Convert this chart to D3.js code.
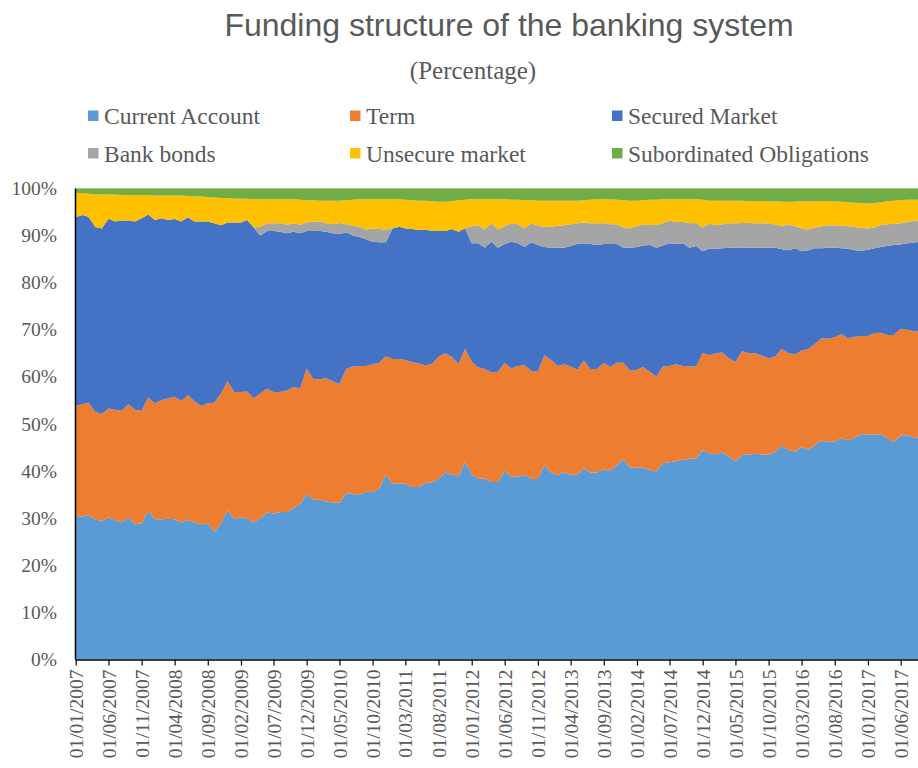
<!DOCTYPE html>
<html>
<head>
<meta charset="utf-8">
<title>Funding structure of the banking system</title>
<script src="https://cdn.jsdelivr.net/npm/d3@7"></script>
<style>
  html, body { margin: 0; padding: 0; background: #ffffff; }
  svg { display: block; }
</style>
</head>
<body>
<svg id="chart" width="918" height="768"></svg>
<script>
// Series shown in the stack, bottom to top
const seriesNames = ["Current Account", "Term", "Secured Market", "Bank bonds", "Unsecure market", "Subordinated Obligations"];
const seriesColors = ["#5B9BD5", "#ED7D31", "#4472C4", "#A5A5A5", "#FFC000", "#70AD47"];

// Monthly shares of total funding (%), January 2007 to September 2017
const currentAccount = [
  30.5,30.3,30.7,29.8,29.4,30.2,29.6,29.1,30.2,28.7,
  28.9,31.5,29.8,29.8,29.9,29.8,29.1,29.6,29.1,28.7,
  28.8,27.1,28.9,31.7,29.8,30.2,30.0,29.1,30.0,31.2,
  31.0,31.3,31.3,32.1,33.0,35.1,33.9,33.9,33.6,33.3,
  33.3,35.3,35.2,34.9,35.6,35.5,36.3,39.2,37.3,37.3,
  37.3,36.6,36.6,37.5,37.6,38.3,39.7,39.3,38.9,42.0,
  39.3,38.3,38.5,37.7,37.7,40.0,38.8,38.8,39.2,38.3,
  38.3,41.2,39.7,39.1,39.8,39.2,39.2,40.6,39.7,39.7,
  40.4,40.0,41.3,42.5,40.7,40.7,40.7,40.2,39.9,41.7,
  41.9,42.1,42.4,42.6,42.7,44.5,43.8,43.6,44.0,43.1,
  42.1,43.4,43.5,43.7,43.5,43.5,44.1,45.4,44.5,44.1,
  45.1,44.6,45.5,46.5,46.2,46.3,47.0,46.5,47.1,47.9,
  47.7,47.7,47.9,47.0,46.1,47.6,47.6,47.2,47.1
];
const term = [
  23.3,23.9,23.8,22.8,22.7,23.1,23.4,23.7,24.0,24.3,
  23.9,24.1,24.6,25.3,25.5,26.0,25.8,26.5,25.8,25.1,
  25.6,27.4,27.6,27.4,27.0,26.6,26.9,26.4,26.5,26.3,
  25.8,25.5,25.8,25.7,24.6,26.7,25.6,25.6,26.1,25.8,
  25.2,26.4,27.0,27.4,26.7,27.2,26.7,25.2,26.5,26.5,
  26.3,26.5,26.3,25.0,25.1,26.0,25.3,25.0,23.8,24.0,
  23.9,23.7,23.2,23.3,23.4,23.0,23.0,23.5,23.3,23.0,
  22.8,23.4,23.9,23.2,22.9,23.0,22.3,22.9,22.0,22.0,
  22.6,22.1,21.7,20.5,20.6,20.8,21.4,20.9,20.2,20.5,
  20.4,20.6,19.9,19.6,19.5,20.6,20.8,21.4,21.2,20.8,
  21.1,22.1,21.5,21.3,21.0,20.4,20.3,20.5,20.5,20.7,
  20.5,21.3,21.5,21.7,21.9,22.1,22.1,21.7,21.4,20.8,
  21.0,21.6,21.5,21.9,22.8,22.6,22.4,22.5,22.6
];
const securedMarket = [
  40.1,40.2,39.5,39.2,39.4,40.3,40.0,40.4,39.0,40.0,
  40.9,38.9,38.9,38.6,37.9,37.7,38.1,37.8,38.1,39.2,
  38.6,38.1,35.7,33.7,36.0,36.0,36.4,36.2,33.5,33.5,
  34.2,34.0,33.4,33.0,32.9,29.2,31.5,31.5,31.1,31.4,
  31.8,29.0,27.8,27.4,26.9,26.0,25.6,24.2,27.7,28.1,
  27.9,28.3,28.3,28.8,28.3,26.7,26.0,27.1,28.1,25.5,
  25.2,26.4,25.7,27.7,26.3,25.2,26.9,26.1,25.1,27.3,
  26.9,23.0,23.8,25.1,24.7,25.6,26.7,24.9,26.5,26.3,
  25.2,26.1,25.2,24.4,26.1,26.1,25.8,26.9,27.3,25.7,
  26.1,25.5,26.1,25.2,25.6,21.6,22.6,22.2,22.1,23.5,
  24.3,22.0,22.4,22.4,22.9,23.5,23.0,21.2,21.9,22.5,
  21.1,21.0,20.3,19.1,19.3,19.0,18.2,19.0,18.4,18.1,
  18.3,18.0,18.2,18.9,19.1,17.9,18.4,18.8,19.0
];
const bankBonds = [
  0,0,0,0,0,0,0,0,0,0,
  0,0,0,0,0,0,0,0,0,0,
  0,0,0,0,0,0,0,0,1.9,1.6,
  1.6,1.8,1.8,1.8,1.8,1.8,2.0,2.0,1.8,1.9,
  2.4,1.7,2.1,2.2,2.1,2.8,2.8,2.7,0,0,
  0,0,0,0,0,0,0,0,0,0,
  3.6,3.8,3.9,3.9,3.9,3.8,3.9,4.0,3.9,4.0,
  4.1,4.3,4.5,4.7,4.8,4.6,4.4,4.4,4.4,4.6,
  4.4,4.2,4.2,4.3,4.1,4.5,4.4,4.3,4.8,4.8,
  4.8,4.7,4.5,5.2,4.9,5.0,5.3,5.0,5.1,5.2,
  5.1,5.2,5.3,5.2,5.2,5.1,5.0,4.9,5.5,4.7,
  4.8,4.4,4.4,4.7,4.8,4.8,4.8,4.8,4.9,4.8,
  4.5,4.4,4.6,4.6,4.5,4.5,4.5,4.6,4.6
];
const unsecureMarket = [
  5.2,4.6,4.9,7.0,7.2,5.1,5.7,5.4,5.4,5.6,
  4.9,4.1,5.2,4.8,5.2,5.0,5.5,4.5,5.3,5.3,
  5.2,5.5,5.8,5.2,5.1,5.0,4.5,6.0,5.8,5.1,
  5.1,5.1,5.4,5.1,5.3,4.7,4.5,4.4,4.8,5.0,
  4.7,5.1,5.5,5.8,6.4,6.2,6.3,6.4,6.2,5.8,
  6.1,6.1,6.2,6.1,6.3,6.2,6.2,5.9,6.7,6.1,
  5.7,5.5,6.4,5.1,6.4,5.7,5.0,5.2,6.0,4.9,
  5.3,5.5,5.5,5.3,5.2,5.0,4.8,4.7,5.0,5.1,
  5.1,5.3,5.2,5.8,5.9,5.3,5.2,5.3,5.4,5.0,
  4.5,4.8,4.8,5.1,5.0,5.9,4.9,5.2,5.0,4.8,
  4.8,4.7,4.6,4.7,4.7,4.8,4.9,5.2,4.8,5.2,
  5.8,6.0,5.6,5.3,5.1,5.1,5.1,5.1,5.2,5.3,
  5.3,5.2,4.9,4.9,4.9,4.9,4.7,4.5,4.3
];
const subordinatedObligations = [
  0.9,1.0,1.1,1.2,1.3,1.3,1.3,1.4,1.4,1.4,
  1.4,1.4,1.5,1.5,1.5,1.5,1.5,1.6,1.7,1.7,
  1.8,1.9,2.0,2.0,2.1,2.2,2.2,2.3,2.3,2.3,
  2.3,2.3,2.3,2.3,2.4,2.5,2.5,2.6,2.6,2.6,
  2.6,2.5,2.4,2.3,2.3,2.3,2.3,2.3,2.3,2.3,
  2.4,2.5,2.6,2.6,2.7,2.8,2.8,2.7,2.5,2.4,
  2.3,2.3,2.3,2.3,2.3,2.3,2.4,2.4,2.5,2.5,
  2.6,2.6,2.6,2.6,2.6,2.6,2.6,2.5,2.4,2.3,
  2.3,2.3,2.4,2.5,2.6,2.6,2.5,2.4,2.4,2.3,
  2.3,2.3,2.3,2.3,2.3,2.4,2.6,2.6,2.6,2.6,
  2.6,2.6,2.7,2.7,2.7,2.7,2.7,2.8,2.8,2.8,
  2.7,2.7,2.7,2.7,2.7,2.7,2.8,2.9,3.0,3.1,
  3.2,3.1,2.9,2.7,2.6,2.5,2.4,2.4,2.4
];

// Axis labels
const yTickValues = [0, 10, 20, 30, 40, 50, 60, 70, 80, 90, 100];
const xTickLabels = [
  "01/01/2007","01/06/2007","01/11/2007","01/04/2008","01/09/2008","01/02/2009",
  "01/07/2009","01/12/2009","01/05/2010","01/10/2010","01/03/2011","01/08/2011",
  "01/01/2012","01/06/2012","01/11/2012","01/04/2013","01/09/2013","01/02/2014",
  "01/07/2014","01/12/2014","01/05/2015","01/10/2015","01/03/2016","01/08/2016",
  "01/01/2017","01/06/2017"
];

const seriesValues = [currentAccount, term, securedMarket, bankBonds, unsecureMarket, subordinatedObligations];
const months = d3.timeMonth.range(new Date(2007, 0, 1), new Date(2017, 9, 1));
const rows = months.map((date, i) => {
  const row = { date };
  seriesNames.forEach((name, k) => { row[name] = seriesValues[k][i]; });
  return row;
});

const svg = d3.select("#chart");
const W = 918;
const plot = { left: 75.5, top: 188.5, bottom: 659.5, right: W };

const parseDay = d3.timeParse("%d/%m/%Y");
const tickDates = xTickLabels.map(parseDay);

// Date axis: first and last labelled months pinned, later months extrapolate to the edge
const x = d3.scaleTime()
  .domain([tickDates[0], tickDates[tickDates.length - 1]])
  .range([75.7, 900.7]);
const y = d3.scaleLinear().domain([0, 100]).range([plot.bottom, plot.top]);

const textColor = "#595959";
const serif = "'Liberation Serif', 'Times New Roman', Times, serif";
const sans = "'Liberation Sans', Arial, Helvetica, sans-serif";

// Title and subtitle
svg.append("text")
  .attr("x", 509).attr("y", 35.5)
  .attr("text-anchor", "middle")
  .style("font-family", sans).style("font-size", "32px")
  .attr("fill", textColor)
  .text("Funding structure of the banking system");

svg.append("text")
  .attr("x", 473).attr("y", 79)
  .attr("text-anchor", "middle")
  .style("font-family", serif).style("font-size", "25px")
  .attr("fill", textColor)
  .text("(Percentage)");

// Legend: three columns, two rows
const legendCols = [88, 350, 612];
const legendRows = [116, 153.5];
const legend = svg.append("g");
seriesNames.forEach((name, k) => {
  const cx = legendCols[k % 3];
  const cy = legendRows[Math.floor(k / 3)];
  legend.append("rect")
    .attr("x", cx).attr("y", cy - 5.5)
    .attr("width", 10.5).attr("height", 10.5)
    .attr("fill", seriesColors[k]);
  legend.append("text")
    .attr("x", cx + 16).attr("y", cy + 8)
    .style("font-family", serif).style("font-size", "23.5px")
    .attr("fill", textColor)
    .text(name);
});

// Gridlines
svg.append("g")
  .selectAll("line")
  .data(yTickValues.filter(v => v > 0))
  .join("line")
  .attr("x1", plot.left).attr("x2", plot.right)
  .attr("y1", d => y(d)).attr("y2", d => y(d))
  .attr("stroke", "#d9d9d9").attr("stroke-width", 1);

// Stacked areas
svg.append("defs").append("clipPath").attr("id", "plot-clip")
  .append("rect")
  .attr("x", plot.left).attr("y", plot.top - 1)
  .attr("width", plot.right - plot.left).attr("height", plot.bottom - plot.top + 1);

const stacked = d3.stack().keys(seriesNames)(rows);
const area = d3.area()
  .x(d => x(d.data.date))
  .y0(d => y(d[0]))
  .y1(d => y(d[1]));

svg.append("g")
  .attr("clip-path", "url(#plot-clip)")
  .selectAll("path")
  .data(stacked)
  .join("path")
  .attr("fill", (d, k) => seriesColors[k])
  .attr("d", area);

// Y axis: line and percentage labels
svg.append("line")
  .attr("x1", plot.left).attr("x2", plot.left)
  .attr("y1", plot.top).attr("y2", plot.bottom)
  .attr("stroke", "#000").attr("stroke-width", 1.5);

svg.append("g")
  .selectAll("text")
  .data(yTickValues)
  .join("text")
  .attr("x", 57).attr("y", d => y(d) + 6.5)
  .attr("text-anchor", "end")
  .style("font-family", serif).style("font-size", "19.5px")
  .attr("fill", textColor)
  .text(d => d + "%");

// X axis: line, tick marks and rotated date labels
const xAxis = d3.axisBottom(x)
  .tickValues(tickDates)
  .tickSize(6)
  .tickFormat((d, i) => xTickLabels[i]);

const gx = svg.append("g")
  .attr("transform", `translate(0,${plot.bottom})`)
  .call(xAxis);
gx.select(".domain")
  .attr("d", `M${plot.left},0.5H${plot.right}`)
  .attr("stroke", "#000").attr("stroke-width", 1.5);
gx.selectAll(".tick line").attr("stroke", "#000").attr("stroke-width", 1.2);
gx.selectAll(".tick text")
  .attr("fill", textColor)
  .style("font-family", serif).style("font-size", "19.5px")
  .attr("text-anchor", "end")
  .attr("transform", "rotate(-90)")
  .attr("x", -10).attr("y", 0).attr("dy", "0.34em");
</script>
</body>
</html>
